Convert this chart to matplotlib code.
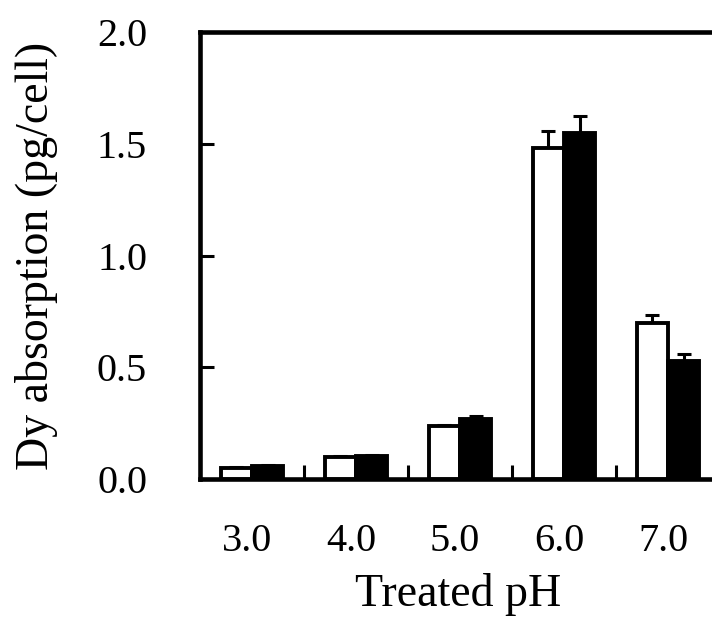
import numpy as np
import matplotlib
matplotlib.use('Agg')
import matplotlib.pyplot as plt
import matplotlib.transforms as mtransforms

plt.rcParams['font.family'] = ['Liberation Serif', 'DejaVu Serif']

# data
ph_labels = ["3.0", "4.0", "5.0", "6.0", "7.0"]
white_vals = [0.05, 0.10, 0.235, 1.48, 0.70]
white_err = [0.004, 0.004, 0.008, 0.075, 0.032]
black_vals = [0.057, 0.102, 0.27, 1.55, 0.53]
black_err = [0.004, 0.004, 0.012, 0.075, 0.028]

fig = plt.figure(figsize=(7.12, 6.19), dpi=100)
# right edge runs past the figure, as in the cropped original
ax = fig.add_axes([200 / 712, 140 / 619, 520 / 712, 447 / 619])

x = np.arange(len(ph_labels)) + 0.5
w = 0.3
lw = 2.8

ax.bar(x - w / 2, white_vals, w, color='white', edgecolor='black', linewidth=lw, zorder=3)
ax.bar(x + w / 2, black_vals, w, color='black', edgecolor='black', linewidth=lw, zorder=3)
ax.errorbar(x - w / 2, white_vals, yerr=[np.zeros(5), white_err], fmt='none',
            ecolor='black', elinewidth=2.2, capsize=4.7, capthick=2.2, zorder=2)
ax.errorbar(x + w / 2, black_vals, yerr=[np.zeros(5), black_err], fmt='none',
            ecolor='black', elinewidth=2.2, capsize=4.7, capthick=2.2, zorder=2)

ax.set_xlim(0, 5)
ax.set_ylim(0, 2.0)
ax.set_yticks([0, 0.5, 1.0, 1.5, 2.0])
ax.set_yticklabels(["0.0", "0.5", "1.0", "1.5", "2.0"])
ax.set_xticks([1, 2, 3, 4])
ax.set_xticklabels([])
ax.set_xticks(x, minor=True)
ax.set_xticklabels(ph_labels, minor=True)

ax.tick_params(axis='x', which='major', direction='in', length=10, width=2.2)
ax.tick_params(axis='x', which='minor', length=0, pad=32, labelsize=29)
ax.tick_params(axis='y', direction='in', length=10, width=2.2, pad=38, labelsize=29)

# x labels sit slightly left of the bar pairs
shift = mtransforms.ScaledTranslation(-5 / 100, 0, fig.dpi_scale_trans)
for lab in ax.xaxis.get_minorticklabels():
    lab.set_transform(lab.get_transform() + shift)

for sp in ax.spines.values():
    sp.set_linewidth(3.3)

ax.set_xlabel("Treated pH", fontsize=33)
ax.set_ylabel("Dy absorption (pg/cell)", fontsize=33)
ax.xaxis.set_label_coords(0.497, -0.21)
ax.yaxis.set_label_coords(-0.273, 0.5)

plt.savefig("out.png", dpi=100)
